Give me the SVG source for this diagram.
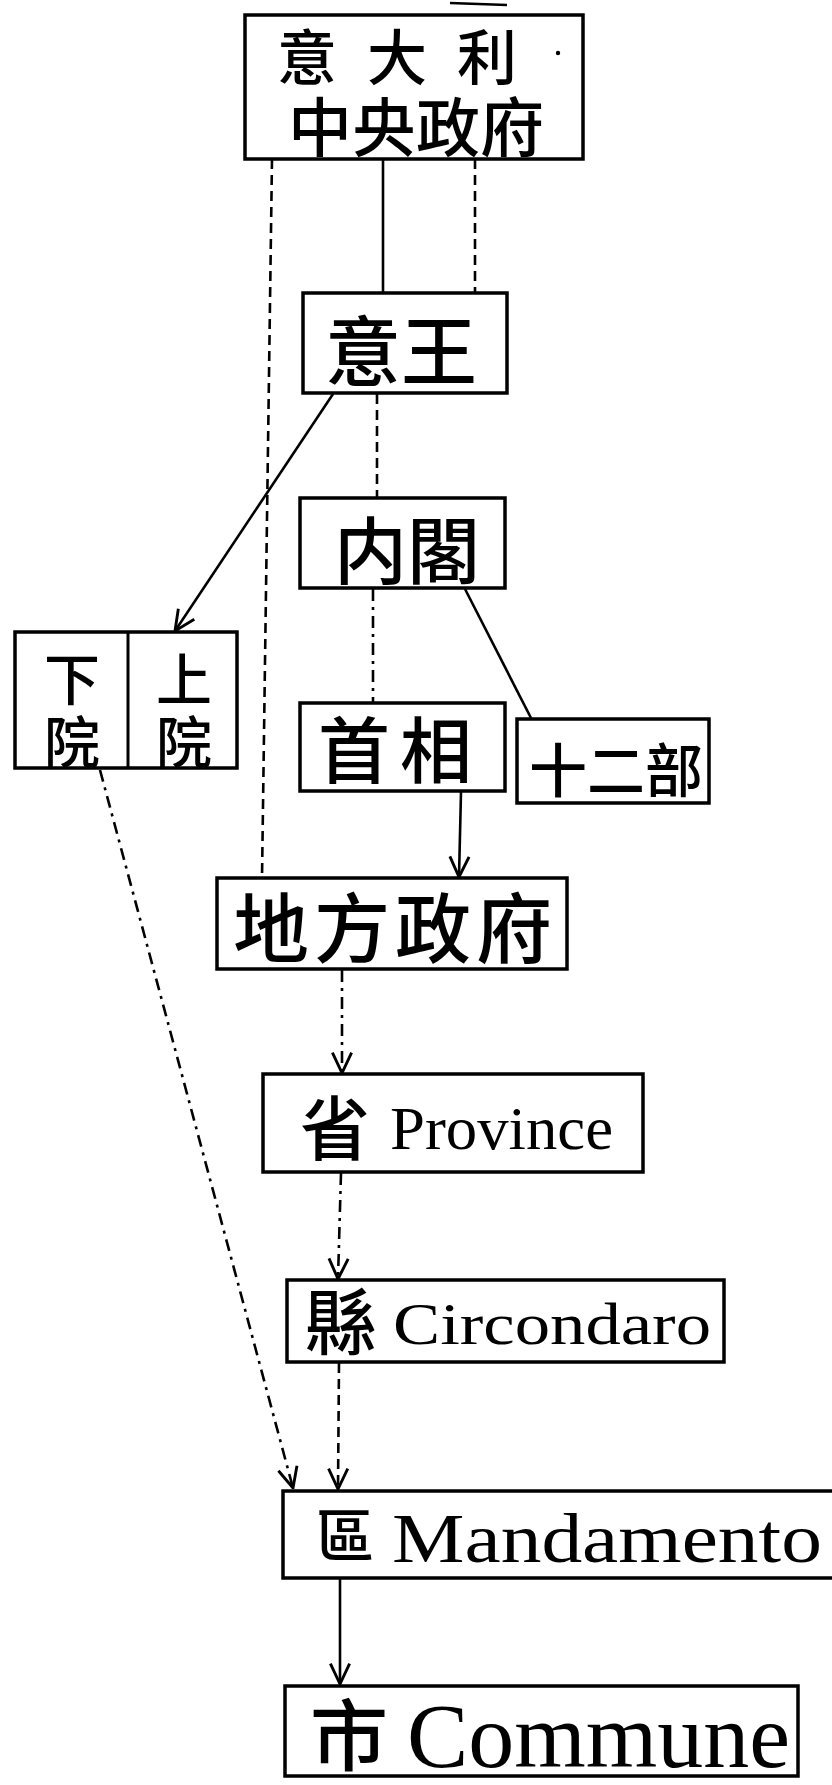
<svg xmlns="http://www.w3.org/2000/svg" width="832" height="1785" viewBox="0 0 832 1785">
<style>
  .box { fill: #fff; stroke: #000; stroke-width: 3.5; }
  .cjk { font-family: "Liberation Sans", "Noto Sans CJK TC", "Noto Sans CJK JP", sans-serif; font-weight: 500; fill: #000; }
  .lat { font-family: "Liberation Serif", serif; fill: #000; }
  .ln { stroke: #000; stroke-width: 2.6; fill: none; }
  .dash { stroke-dasharray: 10 6; }
  .dashdot { stroke-dasharray: 12 6 3 6; }
</style>
<defs>
  <marker id="arr" viewBox="0 0 20 20" refX="19" refY="10" markerUnits="userSpaceOnUse" markerWidth="24" markerHeight="24" orient="auto">
    <path d="M2,2 L19,10 L2,18" fill="none" stroke="#000" stroke-width="2.4"/>
  </marker>
</defs>
<rect width="832" height="1785" fill="#fff"/>

<g id="connectors">
  <line class="ln" x1="450" y1="3" x2="507" y2="5"/>
  <line class="ln dash" x1="272" y1="159" x2="262" y2="878"/>
  <line class="ln" x1="383" y1="159" x2="383" y2="293"/>
  <line class="ln dash" x1="475" y1="159" x2="475" y2="293"/>
  <line class="ln" x1="333" y1="394" x2="175" y2="631" marker-end="url(#arr)"/>
  <line class="ln dash" x1="377" y1="394" x2="377" y2="498"/>
  <line class="ln dashdot" x1="373" y1="589" x2="373" y2="703"/>
  <line class="ln" x1="465" y1="589" x2="531" y2="718"/>
  <line class="ln" x1="461" y1="792" x2="459" y2="877" marker-end="url(#arr)"/>
  <line class="ln dashdot" x1="100" y1="770" x2="293" y2="1488" marker-end="url(#arr)"/>
  <line class="ln dashdot" x1="342" y1="970" x2="342" y2="1073" marker-end="url(#arr)"/>
  <line class="ln dashdot" x1="341" y1="1173" x2="338" y2="1279" marker-end="url(#arr)"/>
  <line class="ln dash" x1="339" y1="1363" x2="338" y2="1489" marker-end="url(#arr)"/>
  <line class="ln" x1="340" y1="1579" x2="340" y2="1684" marker-end="url(#arr)"/>
</g>

<g id="central">
  <rect class="box" x="245" y="15" width="338" height="144"/>
  <circle cx="558" cy="53" r="2.2" fill="#000"/>
  <text class="cjk"><tspan x="277" y="80" font-size="60" letter-spacing="30">意大利</tspan><tspan x="288" y="151" font-size="64" letter-spacing="0">中央政府</tspan></text>
</g>

<g id="king">
  <rect class="box" x="303" y="293" width="204" height="100"/>
  <text class="cjk" x="325" y="380" font-size="76">意王</text>
</g>

<g id="cabinet">
  <rect class="box" x="300" y="498" width="205" height="90"/>
  <text class="cjk" x="334" y="578" font-size="73">内閣</text>
</g>

<g id="parliament">
  <rect class="box" x="15" y="632" width="222" height="136"/>
  <line x1="128" y1="632" x2="128" y2="768" stroke="#000" stroke-width="3"/>
  <text class="cjk" font-size="56" text-anchor="middle"><tspan x="72" y="700">下</tspan><tspan x="72" y="763">院</tspan></text>
  <text class="cjk" font-size="56" text-anchor="middle"><tspan x="184" y="700">上</tspan><tspan x="184" y="763">院</tspan></text>
</g>

<g id="premier">
  <rect class="box" x="300" y="703" width="205" height="88"/>
  <text class="cjk" x="318" y="777" font-size="72" letter-spacing="10">首相</text>
</g>

<g id="ministries">
  <rect class="box" x="517" y="719" width="192" height="84"/>
  <text class="cjk" x="529" y="792" font-size="58">十二部</text>
</g>

<g id="local">
  <rect class="box" x="217" y="878" width="350" height="91"/>
  <text class="cjk" x="233" y="957" font-size="76" letter-spacing="5">地方政府</text>
</g>

<g id="province">
  <rect class="box" x="263" y="1074" width="380" height="98"/>
  <text class="cjk" x="300" y="1155" font-size="70">省</text>
  <text class="lat" x="390" y="1149" font-size="62" textLength="223" lengthAdjust="spacingAndGlyphs">Province</text>
</g>

<g id="circondario">
  <rect class="box" x="287" y="1280" width="437" height="82"/>
  <text class="cjk" x="305" y="1349" font-size="72">縣</text>
  <text class="lat" x="393" y="1344" font-size="60" textLength="318" lengthAdjust="spacingAndGlyphs">Circondaro</text>
</g>

<g id="mandamento">
  <rect class="box" x="283" y="1491" width="560" height="87"/>
  <text class="cjk" x="316" y="1557" font-size="58">區</text>
  <text class="lat" x="392" y="1562" font-size="70" textLength="430" lengthAdjust="spacingAndGlyphs">Mandamento</text>
</g>

<g id="commune">
  <rect class="box" x="285" y="1686" width="513" height="90"/>
  <text class="cjk" x="310" y="1765" font-size="78">市</text>
  <text class="lat" x="407" y="1767" font-size="90" textLength="383" lengthAdjust="spacingAndGlyphs">Commune</text>
</g>
</svg>
